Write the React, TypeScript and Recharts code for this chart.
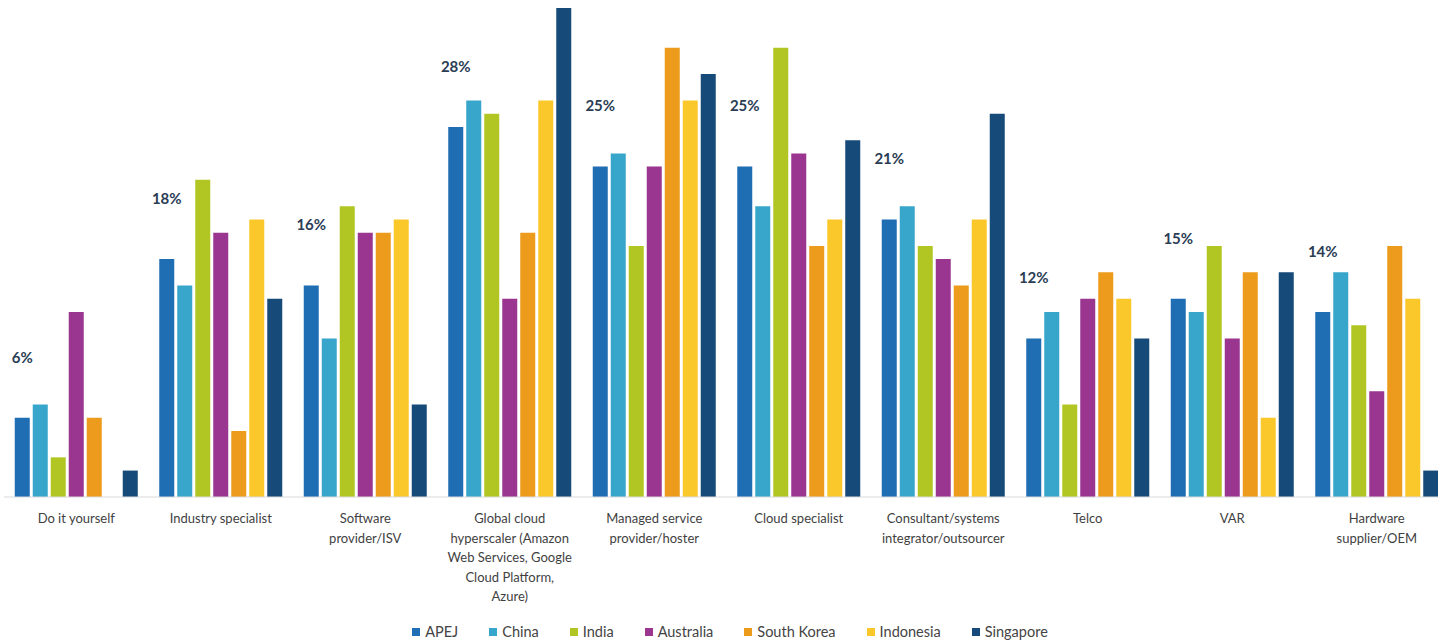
import React from 'react';
import { BarChart, Bar, XAxis, YAxis, LabelList } from 'recharts';

const categories = [
  'Do it yourself',
  'Industry specialist',
  'Software provider/ISV',
  'Global cloud hyperscaler (Amazon Web Services, Google Cloud Platform, Azure)',
  'Managed service provider/hoster',
  'Cloud specialist',
  'Consultant/systems integrator/outsourcer',
  'Telco',
  'VAR',
  'Hardware supplier/OEM',
];

const tickLines = [
  ['Do it yourself'],
  ['Industry specialist'],
  ['Software', 'provider/ISV'],
  ['Global cloud', 'hyperscaler (Amazon', 'Web Services, Google', 'Cloud Platform,', 'Azure)'],
  ['Managed service', 'provider/hoster'],
  ['Cloud specialist'],
  ['Consultant/systems', 'integrator/outsourcer'],
  ['Telco'],
  ['VAR'],
  ['Hardware', 'supplier/OEM'],
];

const apej = [6, 18, 16, 28, 25, 25, 21, 12, 15, 14];
const china = [7, 16, 12, 30, 26, 22, 22, 14, 14, 17];
const india = [3, 24, 22, 29, 19, 34, 19, 7, 19, 13];
const australia = [14, 20, 20, 15, 25, 26, 18, 15, 12, 8];
const southKorea = [6, 5, 20, 20, 34, 19, 16, 17, 17, 19];
const indonesia = [0, 21, 21, 30, 30, 21, 21, 15, 6, 15];
const singapore = [2, 15, 7, 37, 32, 27, 29, 12, 17, 2];

const seriesNames = ['APEJ', 'China', 'India', 'Australia', 'South Korea', 'Indonesia', 'Singapore'];
const seriesKeys = ['apej', 'china', 'india', 'australia', 'southKorea', 'indonesia', 'singapore'];
const seriesColors = ['#1f6db3', '#38a5cb', '#b2c623', '#9a3590', '#ec9b1d', '#fbc82b', '#164a78'];

const data = categories.map((c, i) => ({
  category: c,
  idx: i,
  apej: apej[i],
  china: china[i],
  india: india[i],
  australia: australia[i],
  southKorea: southKorea[i],
  indonesia: indonesia[i],
  singapore: singapore[i],
}));

const FONT = 'Lato, "Open Sans", sans-serif';

const CustomTick = (props: any) => {
  const { x, y, index } = props;
  const lines = tickLines[index] || [];
  return (
    <g>
      {lines.map((ln: string, k: number) => (
        <text
          key={k}
          x={x}
          y={y + 15 + k * 19.5}
          textAnchor="middle"
          dominantBaseline="middle"
          fontFamily={FONT}
          fontSize={13}
          fill="#3f3f3f"
        >
          {ln}
        </text>
      ))}
    </g>
  );
};

const ValueLabel = (props: any) => {
  const { x, y, width, value } = props;
  return (
    <text
      x={x + width / 2}
      y={y - 59}
      textAnchor="middle"
      dominantBaseline="middle"
      fontFamily={FONT}
      fontWeight={700}
      fontSize={15}
      fill="#2a3d54"
    >
      {`${value}%`}
    </text>
  );
};

export default function App() {
  return (
    <div
      style={{
        position: 'fixed',
        left: 0,
        top: 0,
        width: 1438,
        height: 643,
        overflow: 'hidden',
        background: '#ffffff',
      }}
    >
      <BarChart
        width={1449}
        height={643}
        data={data}
        margin={{ top: 8, left: 4, right: 0, bottom: 26 }}
        barCategoryGap={10.75}
        barGap={3}
      >
        <XAxis
          dataKey="category"
          axisLine={{ stroke: '#d9d9d9' }}
          tickLine={false}
          interval={0}
          height={120}
          tick={<CustomTick />}
        />
        <YAxis hide domain={[0, 37]} />
        {seriesKeys.map((k, i) => (
          <Bar key={k} dataKey={k} name={seriesNames[i]} fill={seriesColors[i]} isAnimationActive={false}>
            {k === 'apej' ? <LabelList dataKey="apej" content={<ValueLabel />} /> : null}
          </Bar>
        ))}
      </BarChart>
      <div
        style={{
          position: 'absolute',
          top: 623,
          left: 0,
          width: 1438,
          display: 'flex',
          justifyContent: 'center',
          paddingLeft: 22,
          boxSizing: 'border-box',
          gap: 31,
          fontFamily: FONT,
          fontSize: 14.5,
          color: '#444',
          lineHeight: '18px',
        }}
      >
        {seriesNames.map((n, i) => (
          <div key={n} style={{ display: 'flex', alignItems: 'center' }}>
            <span
              style={{
                display: 'inline-block',
                width: 8,
                height: 8,
                background: seriesColors[i],
                marginRight: 5,
              }}
            />
            <span>{n}</span>
          </div>
        ))}
      </div>
    </div>
  );
}
